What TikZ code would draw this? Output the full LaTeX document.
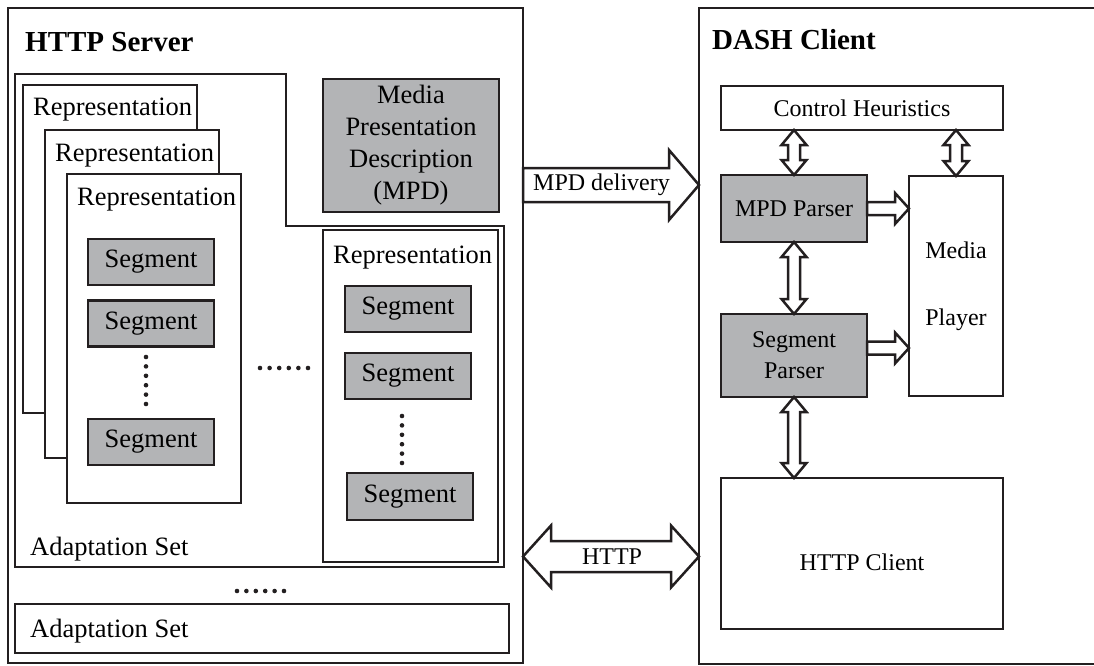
\documentclass[tikz,border=0pt]{standalone}
\usepackage{fontspec}
\setmainfont{Liberation Serif}
\usetikzlibrary{calc}
\definecolor{ln}{HTML}{231F20}
\definecolor{gf}{HTML}{B3B4B6}

% hollow block arrows built from two anchor points
% vertical two-headed: top point, bottom point, shaft half width, head half width, head length
\newcommand\vdblarrow[5]{\draw[arr] let \p1=(#1), \p2=(#2) in
  (\x1,\y1) -- (\x1+#4,\y1-#5) -- (\x1+#3,\y1-#5) -- (\x1+#3,\y2+#5) -- (\x1+#4,\y2+#5)
  -- (\x1,\y2) -- (\x1-#4,\y2+#5) -- (\x1-#3,\y2+#5) -- (\x1-#3,\y1-#5) -- (\x1-#4,\y1-#5) -- cycle;}
% horizontal one-headed: tail point, tip point, shaft half height, head half height, head length
\newcommand\hsglarrow[5]{\draw[arr] let \p1=(#1), \p2=(#2) in
  (\x1,\y1+#3) -- (\x2-#5,\y1+#3) -- (\x2-#5,\y1+#4) -- (\x2,\y1) -- (\x2-#5,\y1-#4)
  -- (\x2-#5,\y1-#3) -- (\x1,\y1-#3) -- cycle;}
% horizontal two-headed: left tip, right tip, shaft half height, head half height, head length
\newcommand\hdblarrow[5]{\draw[arr] let \p1=(#1), \p2=(#2) in
  (\x1,\y1) -- (\x1+#5,\y1+#4) -- (\x1+#5,\y1+#3) -- (\x2-#5,\y1+#3) -- (\x2-#5,\y1+#4)
  -- (\x2,\y1) -- (\x2-#5,\y1-#4) -- (\x2-#5,\y1-#3) -- (\x1+#5,\y1-#3) -- (\x1+#5,\y1-#4) -- cycle;}

\begin{document}
\begin{tikzpicture}[x=1pt,y=-1pt,
  outer/.style={draw=ln,line width=2.5pt},
  wbox/.style={draw=ln,line width=2.8pt,fill=white,inner sep=0pt,outer sep=0pt},
  gbox/.style={wbox,fill=gf},
  arr/.style={draw=ln,line width=2.5pt,fill=white,line join=miter},
  lt/.style={inner sep=0pt,font=\fontsize{26.5}{32}\selectfont},
  rt/.style={inner sep=0pt,font=\fontsize{24}{31}\selectfont},
  ttl/.style={inner sep=0pt,font=\fontsize{29}{32}\selectfont\bfseries},
  dot/.style={fill=ln}]
\fill[white] (0,0) rectangle (1094,666);
\useasboundingbox (0,0) rectangle (1094,666);

% ---------- server side ----------
\node[outer,minimum width=515pt,minimum height=655pt,inner sep=0pt] (srv) at (265.5,335.5) {};
\node[ttl,anchor=base west] (srvt) at (25,52) {HTTP Server};

% first adaptation set (notched outline)
\draw[wbox] (15,74) -- (286,74) -- (286,226) -- (504,226) -- (504,567) -- (15,567) -- cycle;
\node[lt,anchor=base west] (as1) at (30,555) {Adaptation Set};

% stacked representations
\node[wbox,minimum width=174pt,minimum height=328pt] (r1) at (110,249) {};
\node[lt,anchor=base west] (r1t) at (33,116) {Representation};
\node[wbox,minimum width=174pt,minimum height=328pt] (r2) at (132,294) {};
\node[lt,anchor=base west] (r2t) at (55,161) {Representation};
\node[wbox,minimum width=174pt,minimum height=329pt] (r3) at (154,338.5) {};
\node[lt,anchor=base west] (r3t) at (77,205) {Representation};

\node[gbox,lt,minimum width=126pt,minimum height=46pt] (s1) at (151,262) {Segment};
\node[gbox,lt,minimum width=126pt,minimum height=46pt] (s2) at (151,323.5) {Segment};
\node[gbox,lt,minimum width=126pt,minimum height=46pt] (s3) at (151,442) {Segment};
\foreach \i in {0,...,5} \fill[dot] (146,357+\i*9.4) circle (2.3pt);

% horizontal ellipsis between representations
\foreach \i in {0,...,5} \fill[dot] (260+\i*9.6,368) circle (2.3pt);

% last representation
\node[wbox,minimum width=175pt,minimum height=332pt] (rr) at (410.5,396) {};
\node[lt,anchor=base west] (rrt) at (333,263) {Representation};
\node[gbox,lt,minimum width=126pt,minimum height=46pt] (t1) at (408,309) {Segment};
\node[gbox,lt,minimum width=126pt,minimum height=46pt] (t2) at (408,376) {Segment};
\node[gbox,lt,minimum width=126pt,minimum height=47pt] (t3) at (410,496.5) {Segment};
\foreach \i in {0,...,5} \fill[dot] (402,416+\i*9.4) circle (2.3pt);

% MPD
\node[gbox,lt,align=center,minimum width=176pt,minimum height=133pt] (mpd) at (411,145.5)
  {Media\\Presentation\\Description\\(MPD)};

% further adaptation sets
\foreach \i in {0,...,5} \fill[dot] (237+\i*9.4,591) circle (2.3pt);
\node[wbox,minimum width=494pt,minimum height=49pt] (as2) at (262,628.5) {};
\node[lt,anchor=base west] (as2t) at (30,637) {Adaptation Set};

% ---------- client side ----------
\draw[outer] (1100,8) -- (699,8) -- (699,664) -- (1100,664);
\coordinate (cl) at (699,335.5);
\node[ttl,anchor=base west] (clt) at (712,50) {DASH Client};

\node[wbox,rt,minimum width=282pt,minimum height=44pt] (ch) at (862,108) {Control Heuristics};
\node[gbox,rt,minimum width=146pt,minimum height=67pt] (mpdp) at (794,208.5) {MPD Parser};
\node[wbox,rt,align=center,minimum width=94pt,minimum height=220pt,
      font=\fontsize{24}{67}\selectfont] (mpl) at (956,286) {Media\\Player};
\node[gbox,rt,align=center,minimum width=146pt,minimum height=83pt] (sp) at (794,355.5) {Segment\\Parser};
\node[wbox,minimum width=282pt,minimum height=151pt] (hc) at (862,553.5) {};
\node[rt] (hct) at (862,562) {HTTP Client};

% ---------- connectors ----------
\vdblarrow{ch.south -| mpdp.north}{mpdp.north}{6pt}{12.5pt}{15pt}
\vdblarrow{ch.south -| mpl.north}{mpl.north}{6pt}{12.5pt}{15pt}
\vdblarrow{mpdp.south}{sp.north}{6pt}{12.5pt}{15pt}
\vdblarrow{sp.south}{hc.north -| sp.south}{6pt}{12.5pt}{15pt}

\hsglarrow{mpdp.east}{mpdp.east -| mpl.west}{6.5pt}{15.5pt}{14pt}
\coordinate (spo) at (867,348);
\hsglarrow{spo}{spo -| mpl.west}{6.5pt}{15.5pt}{14pt}

\coordinate (md) at (523,185);
\hsglarrow{md}{md -| cl}{17pt}{35pt}{30pt}
\node[rt] (mdt) at (601.5,185) {MPD delivery};

\coordinate (ht) at (523,556.5);
\hdblarrow{ht}{ht -| cl}{15.5pt}{31pt}{28pt}
\node[rt] (htt) at (612,557) {HTTP};
\end{tikzpicture}
\end{document}
